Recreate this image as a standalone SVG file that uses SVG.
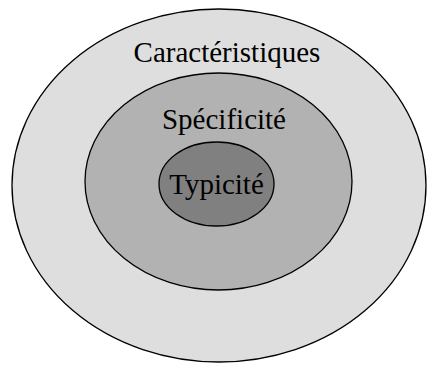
<svg xmlns="http://www.w3.org/2000/svg" width="427" height="365" viewBox="0 0 427 365">
<style>
.e{stroke:#000;stroke-width:1.3}
.t{font-family:"Liberation Serif","Times New Roman",serif;font-size:29px;fill:#000;text-anchor:middle}
</style>
<rect width="427" height="365" fill="#fff"/>
<g id="caracteristiques">
<ellipse class="e" cx="219" cy="185.5" rx="207" ry="176.5" fill="#dedede"/>
<text class="t" x="227" y="62">Caractéristiques</text>
</g>
<g id="specificite">
<ellipse class="e" cx="218.5" cy="181.5" rx="133.5" ry="108.5" fill="#b2b2b2"/>
<text class="t" x="224" y="129">Spécificité</text>
</g>
<g id="typicite">
<ellipse class="e" cx="216.5" cy="184" rx="57.5" ry="42" fill="#808080"/>
<text class="t" x="216.5" y="194">Typicité</text>
</g>
<g id="connectors"/>
</svg>
